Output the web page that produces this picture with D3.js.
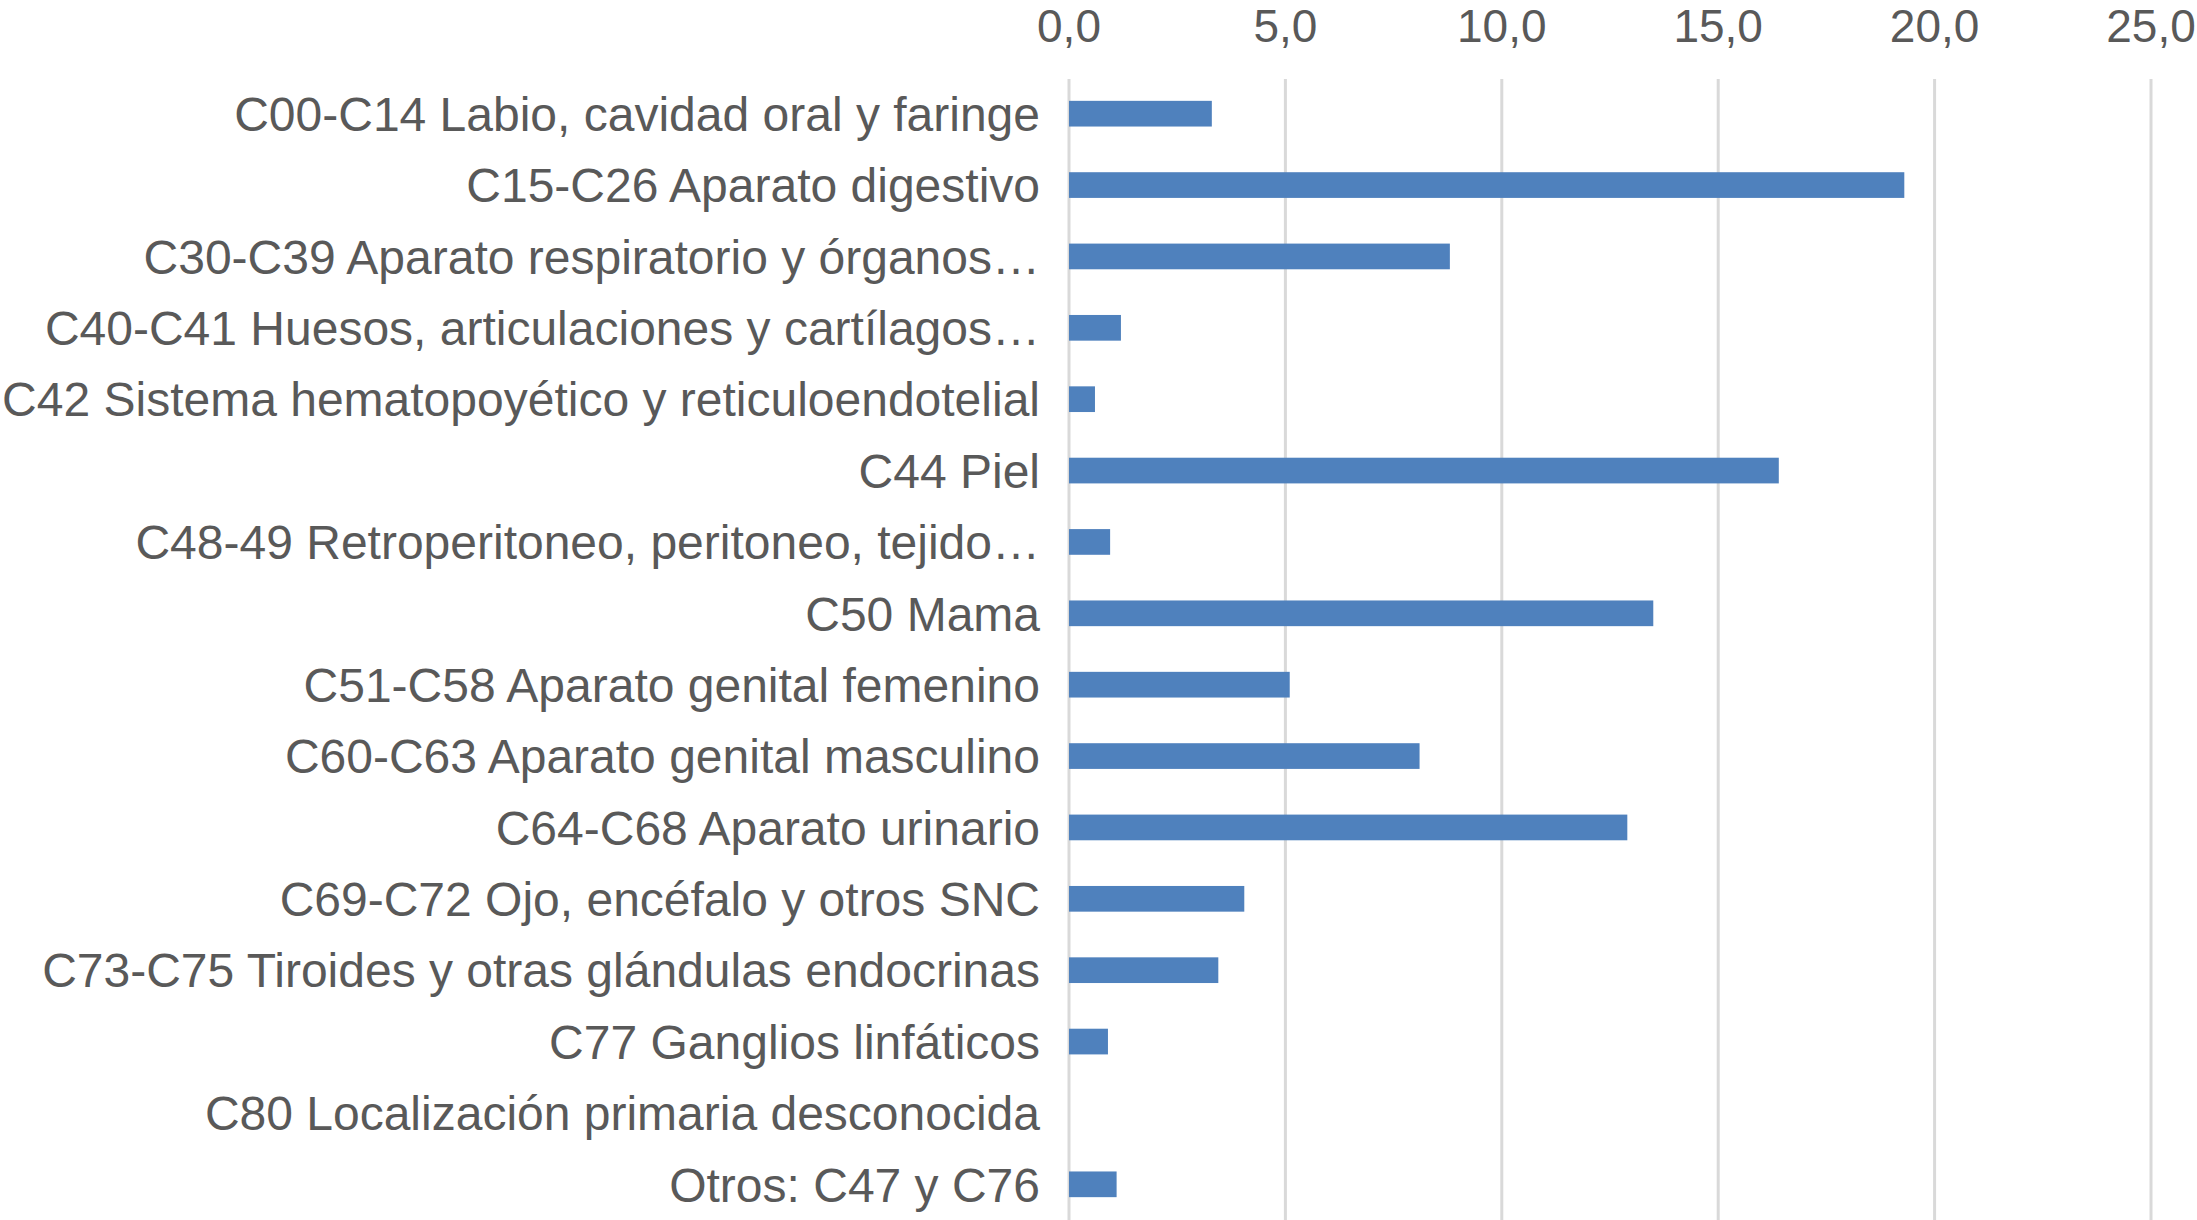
<!DOCTYPE html>
<html>
<head>
<meta charset="utf-8">
<script src="https://cdn.jsdelivr.net/npm/d3@7"></script>
<style>
  html, body { margin: 0; padding: 0; background: #ffffff; }
  svg { display: block; }
  text { font-family: "Liberation Sans", Arial, Helvetica, sans-serif; fill: #595959; }
</style>
</head>
<body>
<svg id="chart" width="2197" height="1220"></svg>
<script>
const categories = [
  "C00-C14 Labio, cavidad oral y faringe",
  "C15-C26 Aparato digestivo",
  "C30-C39 Aparato respiratorio y órganos…",
  "C40-C41 Huesos, articulaciones y cartílagos…",
  "C42 Sistema hematopoyético y reticuloendotelial",
  "C44 Piel",
  "C48-49 Retroperitoneo, peritoneo, tejido…",
  "C50 Mama",
  "C51-C58 Aparato genital femenino",
  "C60-C63 Aparato genital masculino",
  "C64-C68 Aparato urinario",
  "C69-C72 Ojo, encéfalo y otros SNC",
  "C73-C75 Tiroides y otras glándulas endocrinas",
  "C77 Ganglios linfáticos",
  "C80 Localización primaria desconocida",
  "Otros: C47 y C76"
];
const values = [3.3, 19.3, 8.8, 1.2, 0.6, 16.4, 0.95, 13.5, 5.1, 8.1, 12.9, 4.05, 3.45, 0.9, 0.0, 1.1];
const tickValues = [0, 5, 10, 15, 20, 25];

const svg = d3.select("#chart");
const locale = d3.formatLocale({decimal: ",", thousands: ".", grouping: [3], currency: ["", "€"]});
const fmt = locale.format(".1f");

const x = d3.scaleLinear().domain([0, 25]).range([1069, 2151]);
const y = d3.scaleBand().domain(categories).range([78, 1220]).paddingInner(0.64).paddingOuter(0.32);

// gridlines
svg.append("g").selectAll("line").data(tickValues).join("line")
  .attr("x1", d => x(d)).attr("x2", d => x(d))
  .attr("y1", 79).attr("y2", 1220)
  .attr("stroke", "#d9d9d9").attr("stroke-width", 3);

// top tick labels
svg.append("g").selectAll("text").data(tickValues).join("text")
  .attr("x", d => x(d)).attr("y", 42)
  .attr("text-anchor", "middle")
  .attr("font-size", 46)
  .text(d => fmt(d));

// bars
svg.append("g").selectAll("rect").data(values).join("rect")
  .attr("x", x(0))
  .attr("y", (d, i) => y(categories[i]))
  .attr("width", d => x(d) - x(0))
  .attr("height", y.bandwidth())
  .attr("fill", "#4f81bd");

// category labels
svg.append("g").selectAll("text").data(categories).join("text")
  .attr("x", 1040)
  .attr("y", d => y(d) + y.bandwidth() / 2)
  .attr("dy", "0.36em")
  .attr("text-anchor", "end")
  .attr("font-size", 48)
  .text(d => d);
</script>
</body>
</html>
